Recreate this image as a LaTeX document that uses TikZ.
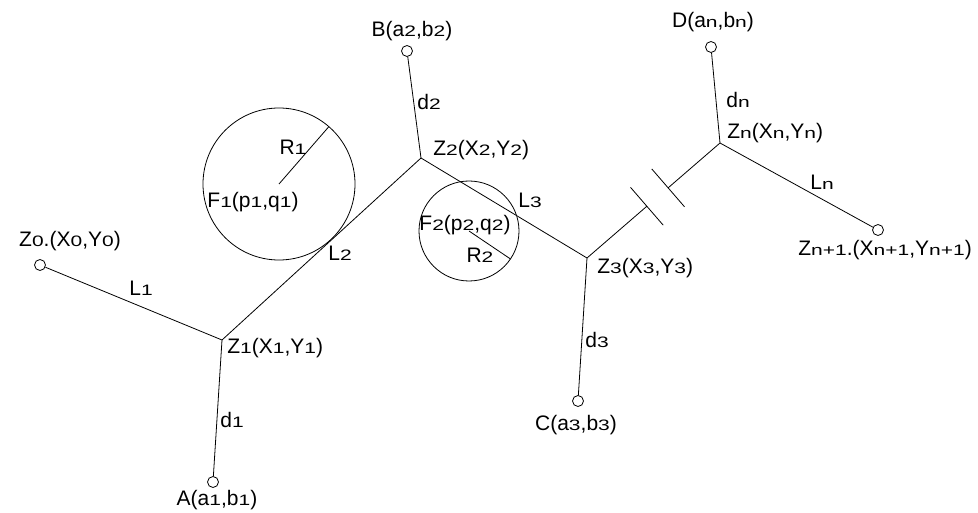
\documentclass[tikz,border=0pt]{standalone}
\usepackage{fontspec}
\setmainfont{Liberation Sans}
\usetikzlibrary{calc}
\newcommand{\sbs}[1]{\scalebox{1}[0.72]{#1}}
\begin{document}
\begin{tikzpicture}[x=1pt,y=-1pt,line width=0.8pt,
  lbl/.style={font=\fontsize{21}{24}\selectfont,inner sep=0pt},
  pin/.style={circle,draw,minimum size=11pt,inner sep=0pt}]
\useasboundingbox (0,0) rectangle (978,513);

% joints
\coordinate (Z1) at (222,340);
\coordinate (Z2) at (421,158);
\coordinate (Z3) at (587,258);
\coordinate (Zn) at (720,143);
\coordinate (F1) at (279,184);
\coordinate (F2) at (469,231);

% end points
\node[pin] (Z0) at (40,265) {};
\node[pin] (A) at (213,482) {};
\node[pin] (B) at (407,51) {};
\node[pin] (C) at (578,401) {};
\node[pin] (D) at (711,47) {};
\node[pin] (Zm) at (878,230) {};

% links
\draw (Z0) -- (Z1) -- (Z2) -- (Z3);
\draw (A) -- (Z1);
\draw (B) -- (Z2);
\draw (C) -- (Z3);
\draw (D) -- (Zn) -- (Zm);

% broken link
\draw (Z3) -- ($(Z3)!0.45!(Zn)$) coordinate (g1);
\draw (Zn) -- ($(Z3)!0.61!(Zn)$) coordinate (g2);
\draw ($(g1)!25pt!90:(Zn)$) -- ($(g1)!25pt!-90:(Zn)$);
\draw ($(g2)!25pt!90:(Zn)$) -- ($(g2)!25pt!-90:(Zn)$);

% obstacles
\draw (F1) circle[radius=76pt];
\draw (F1) -- ++(49:76pt);
\draw (F2) circle[radius=50pt];
\draw (F2) -- ++(-34:50pt);

% labels
\node[lbl] at (70,241) {Z\sbs{0}.(X\sbs{0},Y\sbs{0})};
\node[lbl] at (141,288) {L\sbs{1}};
\node[lbl,anchor=west] at (227,348) {Z\sbs{1}(X\sbs{1},Y\sbs{1})};
\node[lbl] at (232,420) {d\sbs{1}};
\node[lbl] at (217,500) {A(a\sbs{1},b\sbs{1})};
\node[lbl] at (340,253) {L\sbs{2}};
\node[lbl] at (412,31) {B(a\sbs{2},b\sbs{2})};
\node[lbl] at (429,102) {d\sbs{2}};
\node[lbl] at (293,147) {R\sbs{1}};
\node[lbl] at (253,202) {F\sbs{1}(p\sbs{1},q\sbs{1})};
\node[lbl,anchor=west] at (433,150) {Z\sbs{2}(X\sbs{2},Y\sbs{2})};
\node[lbl] at (530,200) {L\sbs{3}};
\node[lbl] at (465,225) {F\sbs{2}(p\sbs{2},q\sbs{2})};
\node[lbl] at (480,255) {R\sbs{2}};
\node[lbl,anchor=west] at (597,268) {Z\sbs{3}(X\sbs{3},Y\sbs{3})};
\node[lbl] at (597,340) {d\sbs{3}};
\node[lbl] at (576,425) {C(a\sbs{3},b\sbs{3})};
\node[lbl] at (713,22) {D(a\sbs{n},b\sbs{n})};
\node[lbl] at (738,100) {d\sbs{n}};
\node[lbl,anchor=west] at (727,133) {Z\sbs{n}(X\sbs{n},Y\sbs{n})};
\node[lbl] at (822,182) {L\sbs{n}};
\node[lbl,anchor=west] at (798,250) {Z\sbs{n+1}.(X\sbs{n+1},Y\sbs{n+1})};
\end{tikzpicture}
\end{document}
